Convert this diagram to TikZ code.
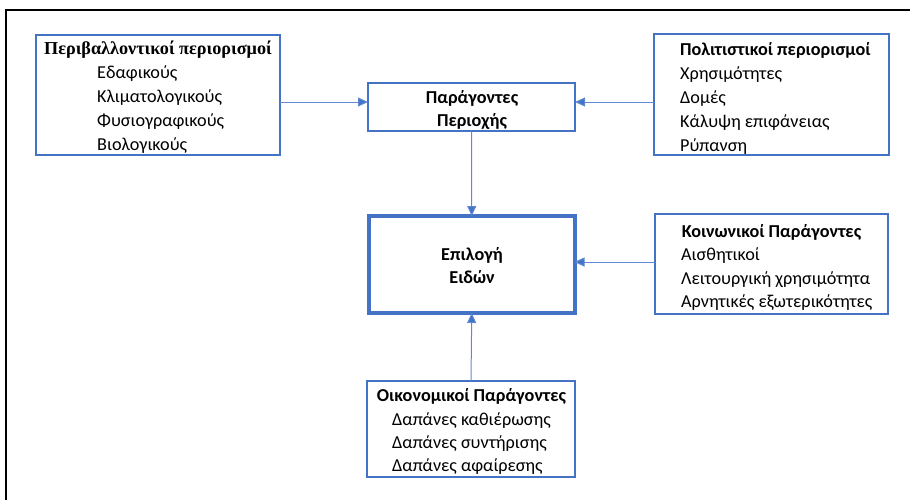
\documentclass[tikz,border=0pt]{standalone}
\usepackage{fontspec}
\setmainfont{Carlito}
\newfontfamily\serifb{Liberation Serif}
\usetikzlibrary{arrows.meta}
\definecolor{wblue}{HTML}{4472C4}
\definecolor{ablue}{HTML}{5F89D4}
\begin{document}
\begin{tikzpicture}[x=1pt,y=-1pt,
  box/.style={draw=wblue, line width=1.6pt, inner sep=0pt, outer sep=0pt},
  bigbox/.style={box, line width=4pt},
  txt/.style={inner sep=0pt, font=\fontsize{18.2}{21}\selectfont},
  item/.style={txt, anchor=base west},
  ttl/.style={txt, anchor=base, font=\fontsize{18.2}{21}\selectfont\bfseries},
  ttlw/.style={txt, anchor=base west, font=\fontsize{18.2}{21}\selectfont\bfseries},
  arr/.style={draw=ablue, line width=1pt, -{Triangle[length=10pt,width=9pt,fill=wblue]}}]
\useasboundingbox (0,0) rectangle (910,499);
% outer frame (only top and left edges visible)
\draw[line width=2pt, line cap=rect] (920,10) -- (6,10) -- (6,510);
% boxes
\node[box, minimum width=244pt, minimum height=120pt] (env) at (158,95) {};
\node[box, minimum width=207pt, minimum height=48pt] (par) at (471.5,107) {};
\node[box, minimum width=235pt, minimum height=121pt] (cult) at (771.5,94.5) {};
\node[bigbox, minimum width=205.5pt, minimum height=97pt] (sel) at (471.75,264.5) {};
\node[box, minimum width=233pt, minimum height=100pt] (soc) at (771.5,264) {};
\node[box, minimum width=208pt, minimum height=96pt] (eco) at (471,429) {};
% environmental
\node[ttl, font=\fontsize{18.2}{21}\selectfont\serifb\bfseries] (envT) at (158,54.5) {Περιβαλλοντικοί περιορισμοί};
\node[item] (env1) at (97,78) {Εδαφικούς};
\node[item] (env2) at (97,102) {Κλιματολογικούς};
\node[item] (env3) at (97,126) {Φυσιογραφικούς};
\node[item] (env4) at (97,150) {Βιολογικούς};
% area factors
\node[ttl] (parT1) at (472,103) {Παράγοντες};
\node[ttl] (parT2) at (472,126.5) {Περιοχής};
% cultural
\node[ttlw] (cultT) at (680,55) {Πολιτιστικοί περιορισμοί};
\node[item] (cult1) at (680,79) {Χρησιμότητες};
\node[item] (cult2) at (680,103) {Δομές};
\node[item] (cult3) at (680,127) {Κάλυψη επιφάνειας};
\node[item] (cult4) at (680,151) {Ρύπανση};
% species selection
\node[ttl] (selT1) at (472,260) {Επιλογή};
\node[ttl] (selT2) at (472,283.5) {Ειδών};
% social
\node[ttl] (socT) at (771.5,237) {Κοινωνικοί Παράγοντες};
\node[item] (soc1) at (681,260) {Αισθητικοί};
\node[item] (soc2) at (681,284) {Λειτουργική χρησιμότητα};
\node[item] (soc3) at (681,307.5) {Αρνητικές εξωτερικότητες};
% economic
\node[ttl] (ecoT) at (471.5,401.7) {Οικονομικοί Παράγοντες};
\node[item] (eco1) at (392,425) {Δαπάνες καθιέρωσης};
\node[item] (eco2) at (392,448) {Δαπάνες συντήρισης};
\node[item] (eco3) at (392,471.7) {Δαπάνες αφαίρεσης};
% connectors
\coordinate (r1) at (0,102);
\coordinate (r2) at (0,262);
\draw[arr] (env.east |- r1) -- (par.west |- r1);
\draw[arr] (cult.west |- r1) -- (par.east |- r1);
\draw[arr] (par.south) -- (sel.north);
\draw[arr] (soc.west |- r2) -- (sel.east |- r2);
\draw[arr] (eco.north) -- (sel.south);
\end{tikzpicture}
\end{document}
